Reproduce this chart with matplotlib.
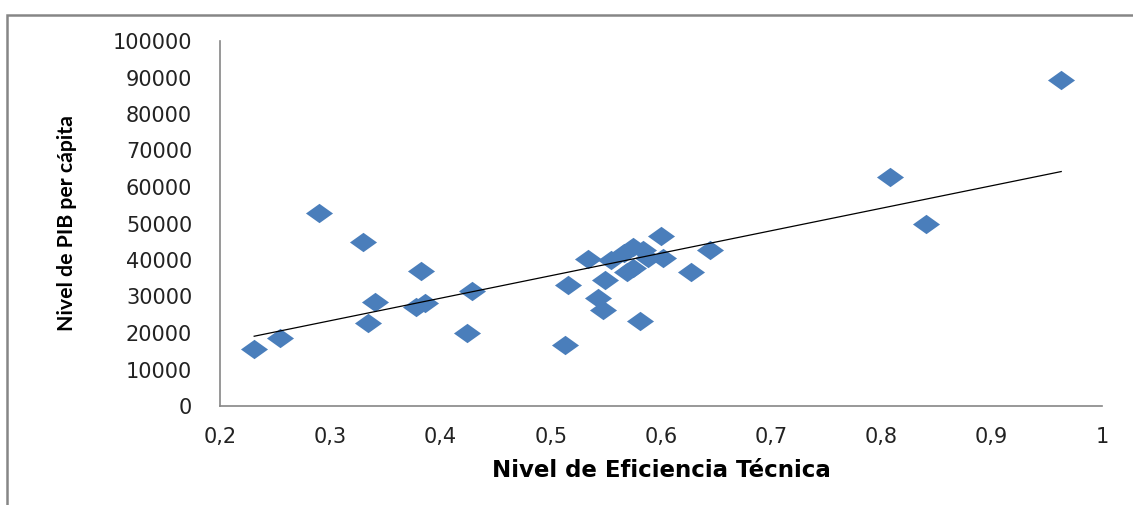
import numpy as np
import matplotlib
matplotlib.use("Agg")
import matplotlib.pyplot as plt
from matplotlib.path import Path
from matplotlib.patches import Rectangle

# Datos (eficiencia tecnica vs PIB per capita)
eficiencia = [0.231, 0.254, 0.290, 0.330, 0.334, 0.341, 0.378, 0.382, 0.386,
              0.424, 0.429, 0.513, 0.516, 0.534, 0.543, 0.547, 0.549, 0.555,
              0.566, 0.569, 0.575, 0.575, 0.581, 0.584, 0.588, 0.600, 0.602,
              0.627, 0.644, 0.808, 0.840, 0.963]
pib = [15600, 18700, 53000, 45000, 22800, 28600, 27200, 37000, 28100,
       19900, 31500, 16700, 33200, 40300, 29700, 26300, 34500, 40000,
       41800, 36700, 43600, 37700, 23300, 42700, 40500, 46600, 40500,
       36600, 42700, 62800, 49900, 89300]
xticks = [0.2, 0.3, 0.4, 0.5, 0.6, 0.7, 0.8, 0.9, 1.0]
yticks = list(range(0, 100001, 10000))

azul = '#4a7ebb'
gris = '#868686'

# rombo aplanado (la imagen original esta estirada en horizontal)
rombo = Path([(-1.4, 0), (0, 1), (1.4, 0), (0, -1), (-1.4, 0)],
             [Path.MOVETO, Path.LINETO, Path.LINETO, Path.LINETO, Path.CLOSEPOLY])

fig = plt.figure(figsize=(11.33, 5.05), dpi=100)
ax = fig.add_axes([220/1133, 1 - 406/505, 882/1133, 365/505])

ax.plot(eficiencia, pib, linestyle='none', marker=rombo, markersize=19.5,
        color=azul, markeredgewidth=0, zorder=3)

# linea de tendencia (regresion lineal)
pend, orden = np.polyfit(eficiencia, pib, 1)
xl = np.array([min(eficiencia), max(eficiencia)])
ax.plot(xl, pend * xl + orden, color='black', linewidth=0.9, zorder=4)

ax.set_xlim(0.2, 1.0)
ax.set_ylim(0, 100000)
ax.set_xticks(xticks)
ax.set_xticklabels([f'{t:g}'.replace('.', ',') for t in xticks])
ax.set_yticks(yticks)
ax.set_yticklabels([str(t) for t in yticks])
ax.tick_params(length=0, labelsize=15, labelcolor='#222222')
ax.tick_params(axis='y', pad=20)
ax.tick_params(axis='x', pad=15)

for s in ['top', 'right']:
    ax.spines[s].set_visible(False)
for s in ['left', 'bottom']:
    ax.spines[s].set_color(gris)
    ax.spines[s].set_linewidth(1.2)

ax.set_xlabel('Nivel de Eficiencia Técnica', fontsize=16.5, fontweight='bold',
              family='DejaVu Sans', labelpad=9)
ax.set_ylabel('Nivel de PIB per cápita', fontsize=15.3, fontweight='bold',
              family='Lato', labelpad=26)

# marco del grafico
fig.patches.append(Rectangle((7/1133, -0.2), 1.2, 1 - 15/505 + 0.2,
                             transform=fig.transFigure, fill=False,
                             edgecolor=gris, linewidth=1.8))

fig.savefig('out.png', dpi=100)
